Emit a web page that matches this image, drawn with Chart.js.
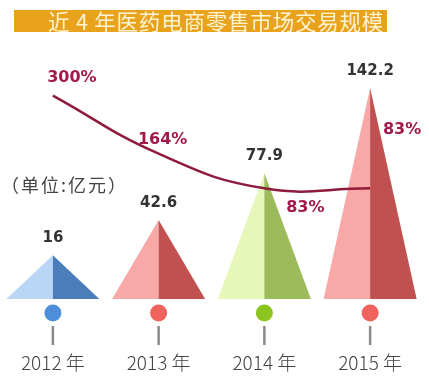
<!DOCTYPE html>
<html>
<head>
<meta charset="utf-8">
<script src="https://cdn.jsdelivr.net/npm/chart.js@4/dist/chart.umd.min.js"></script>
<style>
  html, body { margin: 0; padding: 0; background: #fff; }
  #wrap { position: relative; width: 429px; height: 383px; }
  #banner {
    position: absolute; left: 14px; top: 10px; width: 373px; height: 22px;
    background: #e9a21b; color: #fff4d2;
    font: 21.5px "Noto Sans CJK SC", sans-serif; line-height: 22px;
    letter-spacing: 0.8px;
    padding-left: 34px; box-sizing: border-box; white-space: nowrap;
  }
  canvas { position: absolute; left: 0; top: 0; }
</style>
</head>
<body>
<div id="wrap">
  <canvas id="myChart" width="429" height="383"></canvas>
  <div id="banner">近 4 年医药电商零售市场交易规模</div>
</div>
<script>
// data
var years = ["2012 年", "2013 年", "2014 年", "2015 年"];
var sales = [16, 42.6, 77.9, 142.2];          // 亿元
var growth = [300, 164, 83, 83];              // %
var growthLabels = ["300%", "164%", "83%", "83%"];
var unitLabel = "（单位:亿元）";

// colours for each pyramid (light half, dark half) and the dot under it
var lightSide = ["#b9d6f6", "#f8a8a6", "#e7f6b9", "#f8a8a6"];
var darkSide = ["#4a7db9", "#c05150", "#9cbb5a", "#c05150"];
var dotColors = ["#4d8fdb", "#f0625c", "#8cc51f", "#f0625c"];

// where each percentage sits relative to its point on the curve
var pctOffset = [[19, -18], [4, -14], [41, 20], [32, -58]];

var pyramids = {
    id: "pyramids",
    beforeDatasetsDraw: function (chart) {
        var ctx = chart.ctx;
        var meta = chart.getDatasetMeta(0);
        var bottom = chart.scales.y.bottom;
        meta.data.forEach(function (bar, i) {
            var half = bar.width / 2;
            ctx.fillStyle = lightSide[i];
            ctx.beginPath();
            ctx.moveTo(bar.x, bar.y);
            ctx.lineTo(bar.x - half, bottom);
            ctx.lineTo(bar.x, bottom);
            ctx.closePath();
            ctx.fill();
            ctx.fillStyle = darkSide[i];
            ctx.beginPath();
            ctx.moveTo(bar.x, bar.y);
            ctx.lineTo(bar.x + half, bottom);
            ctx.lineTo(bar.x, bottom);
            ctx.closePath();
            ctx.fill();
        });
    },
    afterDatasetsDraw: function (chart) {
        var ctx = chart.ctx;
        var bars = chart.getDatasetMeta(0).data;
        var pts = chart.getDatasetMeta(1).data;
        var bottom = chart.scales.y.bottom;
        ctx.save();
        ctx.textAlign = "center";
        ctx.textBaseline = "middle";

        bars.forEach(function (bar, i) {
            // value on top of the pyramid
            ctx.fillStyle = "#333";
            ctx.font = "bold 15px 'DejaVu Sans', sans-serif";
            ctx.fillText(String(sales[i]), bar.x, bar.y - 17);

            // dot and stem under the base
            ctx.fillStyle = dotColors[i];
            ctx.beginPath();
            ctx.arc(bar.x, bottom + 14, 8.5, 0, Math.PI * 2);
            ctx.fill();
            ctx.strokeStyle = "#8a8a8a";
            ctx.lineWidth = 2.5;
            ctx.beginPath();
            ctx.moveTo(bar.x, bottom + 27);
            ctx.lineTo(bar.x, bottom + 46);
            ctx.stroke();

            // year under the stem
            ctx.fillStyle = "#444";
            ctx.font = "300 19px 'Noto Sans CJK SC', sans-serif";
            ctx.fillText(years[i], bar.x, bottom + 64);
        });

        ctx.fillStyle = "#a3194b";
        ctx.font = "bold 16px 'DejaVu Sans', sans-serif";
        pts.forEach(function (p, i) {
            ctx.fillText(growthLabels[i], p.x + pctOffset[i][0], p.y + pctOffset[i][1]);
        });

        ctx.fillStyle = "#444";
        ctx.font = "18px 'Noto Sans CJK SC', sans-serif";
        ctx.letterSpacing = "2px";
        ctx.textAlign = "left";
        ctx.fillText(unitLabel, 1, 185);
        ctx.restore();
    }
};

new Chart("myChart", {
    type: "bar",
    data: {
        labels: years,
        datasets: [{
            label: "交易规模",
            data: sales,
            backgroundColor: "rgba(0,0,0,0)",
            borderWidth: 0,
            barPercentage: 0.88,
            categoryPercentage: 1,
            yAxisID: "y"
        }, {
            type: "line",
            label: "增长率",
            data: growth,
            yAxisID: "y2",
            borderColor: "#8e1b3c",
            borderWidth: 2.5,
            tension: 0.45,
            pointRadius: 0,
            fill: false
        }]
    },
    options: {
        responsive: false,
        animation: false,
        layout: { padding: { top: 40, right: 6, left: 0, bottom: 84 } },
        plugins: { legend: { display: false }, tooltip: { enabled: false } },
        scales: {
            x: { display: false, offset: true },
            y: { display: false, min: -17, max: 178.4 },
            y2: { display: false, min: -176, max: 430 }
        }
    },
    plugins: [pyramids]
});
</script>
</body>
</html>
